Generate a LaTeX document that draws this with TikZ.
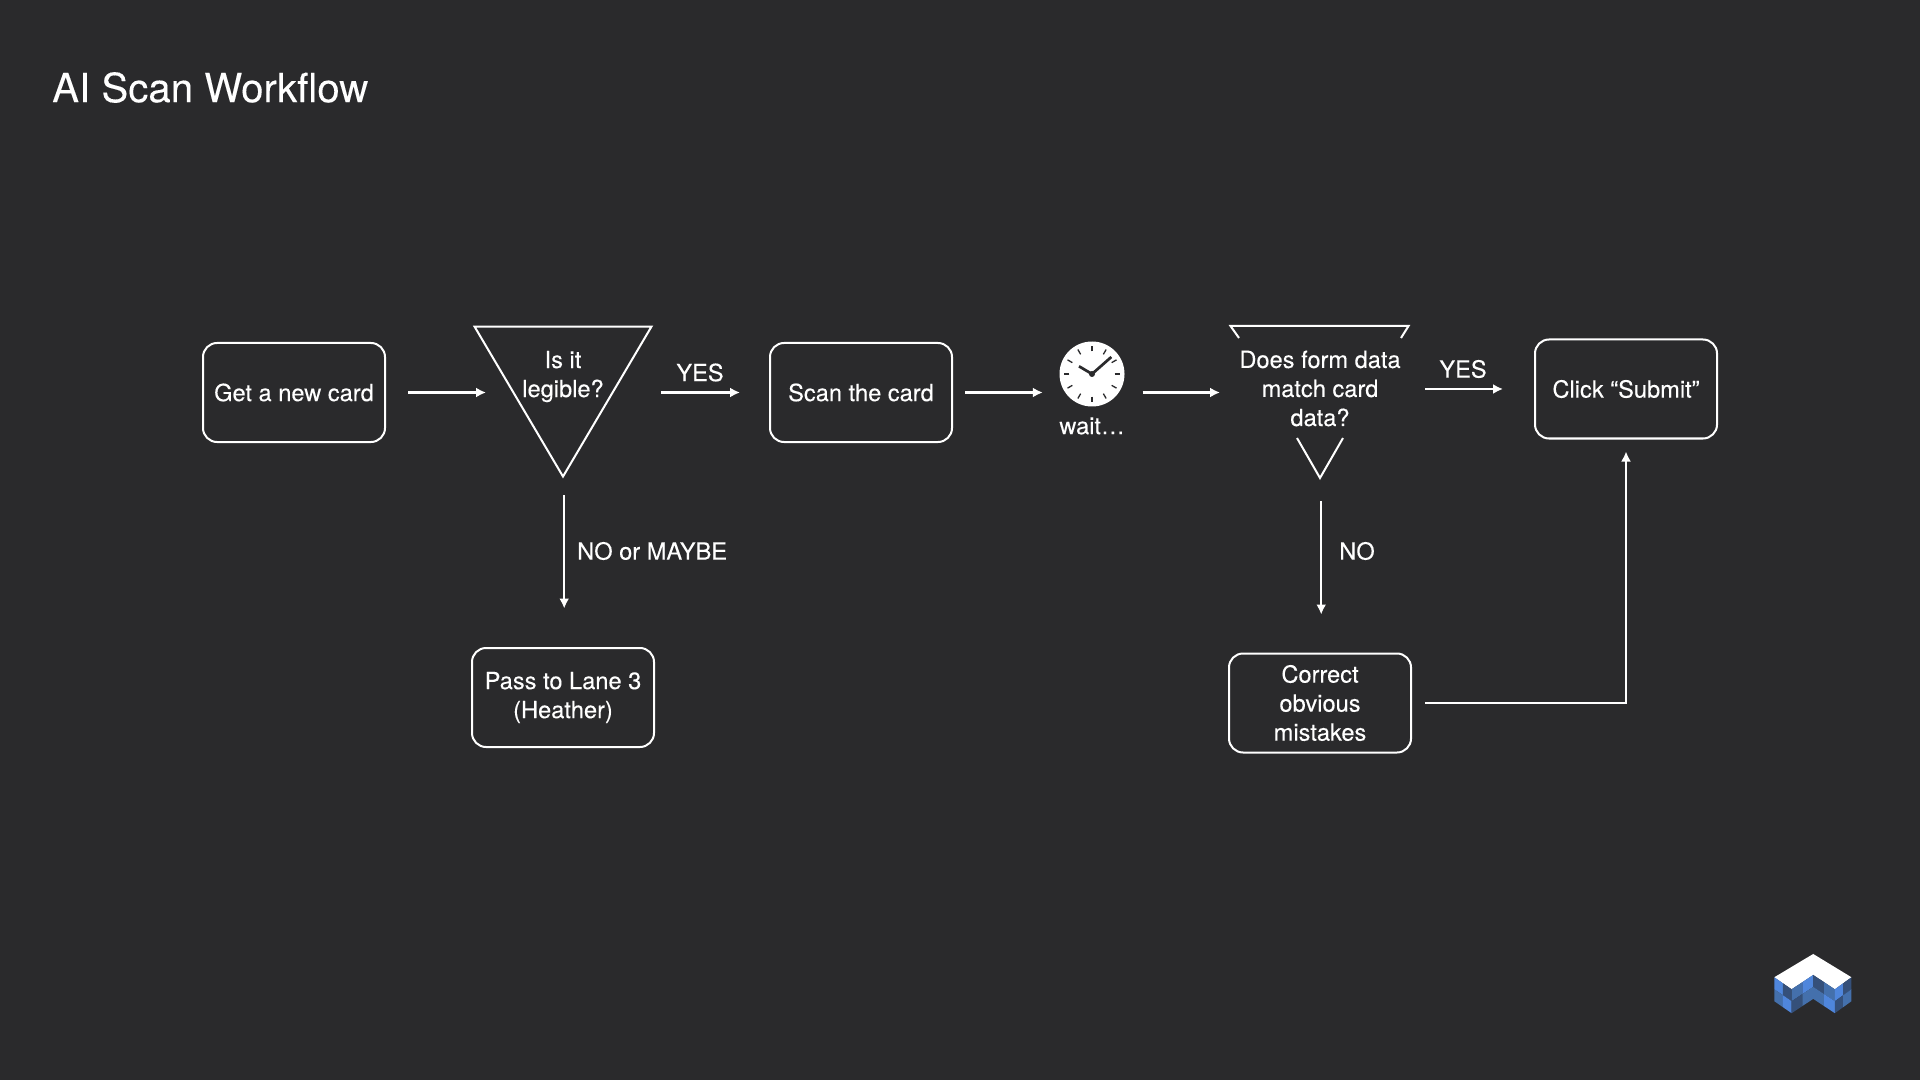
\documentclass[tikz,border=0pt]{standalone}
\usepackage{fontspec}
\setmainfont[FakeBold=0.15]{TeX Gyre Heros}
\usetikzlibrary{arrows.meta, positioning, shapes.geometric}
\definecolor{slide}{HTML}{2A2A2C}
\definecolor{cubelight}{HTML}{4F86DC}
\definecolor{cubemid}{HTML}{4470AC}
\definecolor{cubedark}{HTML}{35507A}
\tikzset{
  box/.style = {rectangle, draw=white, rounded corners=.14cm, minimum width=1.82cm, minimum height=.99cm, align=center, text=white, font=\fontsize{6.72}{8.26}\selectfont, inner sep=0pt, line width=.02cm},
  txt/.style = {text=white, align=center, font=\fontsize{6.72}{8.26}\selectfont, inner sep=0pt},
  ask/.style = {isosceles triangle, isosceles triangle apex angle=61, isosceles triangle stretches, shape border rotate=-90, draw=white, line width=.02cm, minimum height=1.5cm, minimum width=1.77cm, inner sep=0pt},
  arr/.style = {-{Latex[length=.1cm,width=.1cm]}, draw=white, line width=.021cm},
  edge/.style = {draw=white, line width=.02cm}
}

\begin{document}
\begin{tikzpicture}

\fill[slide] (0,0) rectangle (19.2,-10.8);
\useasboundingbox (0,0) rectangle (19.2,-10.8);

% Title
\node[text=white, font=\fontsize{11.45}{13}\selectfont, anchor=west, inner sep=0pt] (title) at (.515,-.875) {AI Scan Workflow};

% Top row
\node[box] (newcard) at (2.94,-3.925) {Get a new card};
\node[ask, anchor=apex] (legible) at (5.63,-4.785) {};
\node[txt] (legibletext) at (5.63,-3.765) {Is it\\legible?};
\node[box] (scan) at (8.61,-3.925) {Scan the card};
\node[circle, fill=white, minimum size=.65cm, inner sep=0pt] (clock) at (10.92,-3.74) {};
\node[txt] (waitlabel) at (10.92,-4.26) {wait…};
\node[txt] (formtext) at (13.2,-3.885) {Does form data\\match card\\data?};
\node[box] (submit) at (16.26,-3.89) {Click “Submit”};

% Bottom row
\node[box] (pass) at (5.63,-6.975) {Pass to Lane 3\\(Heather)};
\node[box] (correct) at (13.2,-7.03) {Correct\\obvious\\mistakes};

% Ticks and hands of the clock
\foreach \a in {0,30,...,330}
  \draw[slide, line width=.013cm] (clock.center) ++(\a:.227) -- ++(\a:.056);
\draw[slide, line width=.027cm] (clock.center) -- ++(-.13,.077);
\draw[slide, line width=.027cm] (clock.center) -- ++(.193,.17);
\fill[slide] (clock.center) circle (.03);

% Parts of the form triangle that show around its text
\coordinate (formapex) at (13.2,-4.78);
\draw[edge] (12.39,-3.38) -- (12.305,-3.26) -- (14.085,-3.26) -- (14.01,-3.38);
\draw[edge] (12.97,-4.38) -- (formapex) -- (13.43,-4.38);

% Free arrow ends beside the triangles
\coordinate (legiblein) at (4.86,-3.925);
\coordinate (legibleout) at (6.61,-3.925);
\coordinate (formin) at (12.2,-3.925);
\coordinate (formout) at (14.25,-3.89);

% Arrows
\draw[arr, shorten <=.22cm] (newcard.east) -- (legiblein);
\draw[arr, shorten >=.29cm] (legibleout) -- (scan.west);
\draw[arr, shorten <=.12cm, shorten >=.16cm] (scan.east) -- (clock.west |- scan.east);
\draw[arr, shorten <=.175cm] (clock.east |- formin) -- (formin);
\draw[arr, shorten >=.31cm] (formout) -- (submit.west);
\draw[arr, shorten <=.165cm, shorten >=.385cm] ([xshift=.012cm]legible.apex) -- ([xshift=.012cm]pass.north);
\draw[arr, shorten <=.23cm, shorten >=.38cm] ([xshift=.012cm]formapex) -- ([xshift=.012cm]correct.north);
\draw[arr, shorten <=.13cm, shorten >=.12cm] (correct.east) -| (submit.south);

% Arrow labels
\node[txt] (yesone) at (7.0,-3.725) {YES};
\node[txt, anchor=west] (nomaybe) at (5.765,-5.51) {NO or MAYBE};
\node[txt] (yestwo) at (14.63,-3.69) {YES};
\node[txt] (nolabel) at (13.57,-5.51) {NO};

% Logo
\begin{scope}[shift={(17.5,-9.4)}, x=.003333cm, y=-.003333cm]
\fill[white] (190,42) -- (305,112) -- (255,148) -- (190,105) -- (125,148) -- (73,112) -- cycle;
\foreach \px/\py/\qx/\qy/\ca/\cb/\cc/\cd in {
  73/112/125/148/cubelight/cubedark/cubemid/cubelight,
  125/148/190/105/cubemid/cubelight/cubedark/cubemid,
  190/105/255/148/cubedark/cubemid/cubemid/cubelight,
  255/148/305/112/cubelight/cubedark/cubedark/cubemid}{
  \pgfmathsetmacro{\mx}{(\px+\qx)/2}
  \pgfmathsetmacro{\my}{(\py+\qy)/2}
  \fill[\ca] (\px,\py) -- (\mx,\my) -- (\mx,\my+36) -- (\px,\py+36) -- cycle;
  \fill[\cb] (\mx,\my) -- (\qx,\qy) -- (\qx,\qy+36) -- (\mx,\my+36) -- cycle;
  \fill[\cc] (\px,\py+36) -- (\mx,\my+36) -- (\mx,\my+72) -- (\px,\py+72) -- cycle;
  \fill[\cd] (\mx,\my+36) -- (\qx,\qy+36) -- (\qx,\qy+72) -- (\mx,\my+72) -- cycle;
}
\end{scope}

\end{tikzpicture}
\end{document}
